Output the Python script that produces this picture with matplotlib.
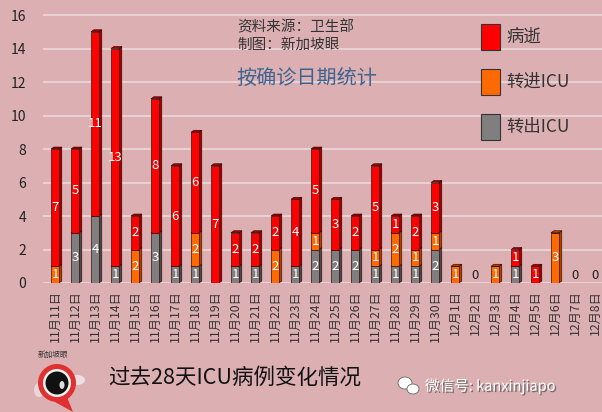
import matplotlib
matplotlib.use("Agg")
import matplotlib.pyplot as plt
import matplotlib.patheffects as pe
from matplotlib.patches import Rectangle, Circle, Polygon, Ellipse
import numpy as np

plt.rcParams['font.family'] = ['Noto Sans CJK SC', 'DejaVu Sans']

dates = ["11月11日", "11月12日", "11月13日", "11月14日", "11月15日", "11月16日", "11月17日",
         "11月18日", "11月19日", "11月20日", "11月21日", "11月22日", "11月23日", "11月24日",
         "11月25日", "11月26日", "11月27日", "11月28日", "11月29日", "11月30日", "12月1日",
         "12月2日", "12月3日", "12月4日", "12月5日", "12月6日", "12月7日", "12月8日"]
out_icu = [0, 3, 4, 1, 0, 3, 1, 1, 0, 1, 1, 0, 1, 2, 2, 2, 1, 1, 1, 2, 0, 0, 0, 1, 0, 0, 0, 0]
in_icu = [1, 0, 0, 0, 2, 0, 0, 2, 0, 0, 0, 2, 0, 1, 0, 0, 1, 2, 1, 1, 1, 0, 1, 0, 0, 3, 0, 0]
deaths = [7, 5, 11, 13, 2, 8, 6, 6, 7, 2, 2, 2, 4, 5, 3, 2, 5, 1, 2, 3, 0, 0, 0, 1, 1, 0, 0, 0]
series_names = ["转出ICU", "转进ICU", "病逝"]
yticks = [0, 2, 4, 6, 8, 10, 12, 14, 16]

BG = "#dcb0b2"
colors = ["#7f7f7f", "#ff6a00", "#ff0000"]
sides = ["#4a4a4a", "#a84400", "#a00000"]

fig = plt.figure(figsize=(6.02, 4.12), dpi=100, facecolor=BG)
ax = fig.add_axes([43/602, 129/412, 559/602, 273/412])
ax.set_facecolor(BG)
ax.set_xlim(-0.6, 27.35)
ax.set_ylim(0, 16.3)
for s in ax.spines.values():
    s.set_visible(False)
ax.set_yticks(yticks)
ax.yaxis.grid(True, color="#ead8da", linewidth=1.2)
ax.set_axisbelow(True)
ax.tick_params(axis="y", length=0, labelsize=10, colors="#222222", pad=12)
x = np.arange(len(dates))
ax.set_xticks(x)
ax.set_xticklabels(dates, rotation=90, fontsize=8.8, color="#333333")
ax.tick_params(axis="x", length=0, pad=5)

w = 0.4
dx, dy = 0.14, 0.12
bottom = np.zeros(len(dates))
for vals, c, sc in zip([out_icu, in_icu, deaths], colors, sides):
    vals = np.array(vals, dtype=float)
    for i, v in enumerate(vals):
        if v <= 0:
            continue
        b = bottom[i]
        xl = i - w / 2
        xr = i + w / 2
        ax.add_patch(Polygon([[xr, b], [xr + dx, b + dy], [xr + dx, b + v + dy], [xr, b + v]],
                             closed=True, facecolor=sc, edgecolor="#300000", linewidth=0.4, zorder=3))
        ax.add_patch(Polygon([[xl, b + v], [xl + dx, b + v + dy], [xr + dx, b + v + dy], [xr, b + v]],
                             closed=True, facecolor=sc, edgecolor="#300000", linewidth=0.4, zorder=3))
    ax.bar(x, vals, w, bottom=bottom, color=c, edgecolor="#3a1010", linewidth=0.5, zorder=4)
    for i, v in enumerate(vals):
        if v > 0:
            ax.text(i, bottom[i] + v / 2, str(int(v)), ha="center", va="center",
                    color="white", fontsize=9.5, zorder=5)
    bottom += vals

totals = np.array(out_icu) + np.array(in_icu) + np.array(deaths)
for i, t in enumerate(totals):
    if t == 0:
        ax.text(i, 0.45, "0", ha="center", va="center", color="#222222", fontsize=9.5, zorder=5)

# annotations
fig.text(237/602, 1 - 27/412, "资料来源：卫生部", fontsize=10.5, color="#333333", va="center", ha="left")
fig.text(237/602, 1 - 45/412, "制图：新加坡眼", fontsize=10.5, color="#333333", va="center", ha="left")
fig.text(236/602, 1 - 78/412, "按确诊日期统计", fontsize=14.5, color="#3d6391", va="center", ha="left")

# legend
leg = [("病逝", colors[2], 37), ("转进ICU", colors[1], 82), ("转出ICU", colors[0], 127)]
for name, c, yc in leg:
    fig.patches.append(Rectangle((481/602, 1 - (yc + 13)/412), 19/602, 26/412,
                                 transform=fig.transFigure, facecolor=c, edgecolor="#333333",
                                 linewidth=0.8, figure=fig))
    fig.text(506/602, 1 - yc/412, name, fontsize=12.5, color="#333333", va="center", ha="left")

# bottom title
fig.text(108/602, 1 - 378/412, "过去28天ICU病例变化情况", fontsize=15.5, color="#111111",
         va="center", ha="left")

# watermark
fig.text(425/602, 1 - 386/412, "微信号: kanxinjiapo", fontsize=10.5, color="white",
         va="center", ha="left",
         path_effects=[pe.withSimplePatchShadow(offset=(1, -1), shadow_rgbFace="#555555", alpha=0.8)])
fig.patches.append(Ellipse((405/602, 1 - 383/412), 14/602, 12/412, transform=fig.transFigure,
                           facecolor="white", edgecolor="#666666", linewidth=0.6, figure=fig))
fig.patches.append(Ellipse((413/602, 1 - 389/412), 12/602, 10/412, transform=fig.transFigure,
                           facecolor="white", edgecolor="#666666", linewidth=0.6, figure=fig))

# logo
lax = fig.add_axes([25/602, 0, 70/602, 70/412])
lax.set_xlim(0, 70)
lax.set_ylim(0, 70)
lax.axis("off")
lax.add_patch(Ellipse((52, 32), 16, 10, facecolor="#f4f4f4", edgecolor="none", alpha=0.7))
lax.add_patch(Ellipse((14, 22), 10, 14, facecolor="#f4f4f4", edgecolor="none", alpha=0.6))
lax.add_patch(Polygon([[40, 20], [48, 0], [30, 10]], closed=True, facecolor="#e03030", edgecolor="none"))
lax.add_patch(Circle((32, 29), 19, facecolor="#e03030", edgecolor="none"))
lax.add_patch(Circle((32, 29), 14, facecolor="#f2f2f2", edgecolor="none"))
lax.add_patch(Circle((32, 29), 11.5, facecolor="#111111", edgecolor="none"))
lax.add_patch(Ellipse((37, 27), 5, 8, facecolor="#dddddd", edgecolor="none"))
lax.text(28, 57, "新加坡眼", fontsize=5.5, color="#333333", ha="center", va="center")

fig.savefig("out.png", dpi=100, facecolor=BG)
